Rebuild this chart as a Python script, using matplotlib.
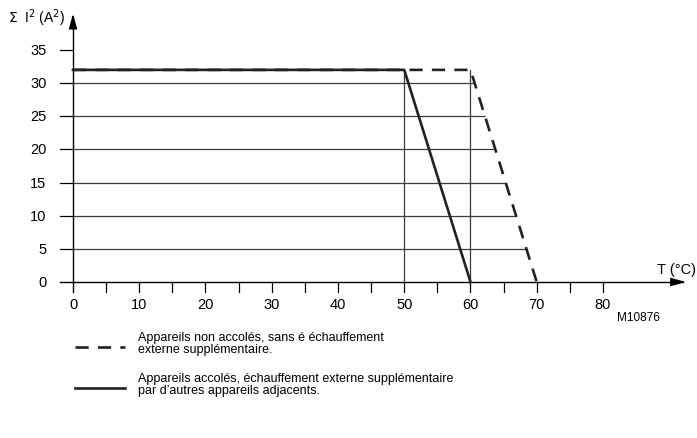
import numpy as np
import matplotlib
matplotlib.use("Agg")
import matplotlib.pyplot as plt
from matplotlib import font_manager

# Data
temp_dashed = [0, 60, 70]
i2_dashed = [32, 32, 0]
temp_solid = [0, 50, 60]
i2_solid = [32, 32, 0]
x_ticks = [0, 10, 20, 30, 40, 50, 60, 70, 80]
x_minor = [5, 15, 25, 35, 45, 55, 65, 75]
y_ticks = [0, 5, 10, 15, 20, 25, 30, 35]
grid_levels = [5, 10, 15, 20, 25, 30]
vlines_at = [50, 60]

names = {f.name for f in font_manager.fontManager.ttflist}
fam = ['Liberation Sans Narrow', 'DejaVu Sans'] if 'Liberation Sans Narrow' in names else ['Liberation Sans', 'DejaVu Sans']
plt.rcParams['font.family'] = fam

W, H = 697, 439
fig = plt.figure(figsize=(W / 100, H / 100), dpi=100)


def px(x, y):
    return x / W, 1 - y / H


# axes placed so that x=0 -> 73 px, x=80 -> 603 px, y=0 -> 283 px, y=35 -> 51 px
sx = (603 - 73) / 80
sy = (283 - 51) / 35
x0, x1 = -2.5, (690 - 73) / sx
y0, y1 = -3.0, (283 - 10) / sy
left = (73 + x0 * sx) / W
width = (x1 - x0) * sx / W
bottom = (H - (283 - y0 * sy)) / H
height = (y1 - y0) * sy / H
ax = fig.add_axes([left, bottom, width, height])
ax.set_xlim(x0, x1)
ax.set_ylim(y0, y1)
ax.axis('off')

grid_c = '#3a3a3a'
# horizontal gridlines up to the dashed curve
for g in grid_levels:
    xe = np.interp(g, i2_dashed[::-1], temp_dashed[::-1])
    ax.plot([0, xe], [g, g], color=grid_c, lw=0.9, solid_capstyle='butt')
for v in vlines_at:
    ax.plot([v, v], [0, 32], color=grid_c, lw=0.9)

# axes lines
ax.plot([x0 + 0.5, x1 - 1.0], [0, 0], color='black', lw=1.0)
ax.plot([0, 0], [-1.5, y1 - 1.5], color='black', lw=1.0)
ax.annotate('', xy=(x1 - 0.2, 0), xytext=(x1 - 2.2, 0),
            arrowprops=dict(arrowstyle='-|>,head_length=0.9,head_width=0.25', color='black', lw=1.0))
ax.annotate('', xy=(0, y1 - 0.3), xytext=(0, y1 - 2.5),
            arrowprops=dict(arrowstyle='-|>,head_length=0.9,head_width=0.25', color='black', lw=1.0))

# ticks
for t in x_ticks[1:] + x_minor:
    ax.plot([t, t], [0, -1.5], color='black', lw=0.9)
for t in y_ticks[1:]:
    ax.plot([x0 + 0.5, 0], [t, t], color='black', lw=0.9)
for t in x_ticks:
    ax.text(t, -2.3, str(t), ha='center', va='top', fontsize=10.5)
for t in y_ticks:
    ax.text(-4.0, t, str(t), ha='right', va='center', fontsize=10.5)

# curves
ax.plot(temp_dashed, i2_dashed, color='#222222', lw=1.9, dashes=(5, 3.5))
ax.plot(temp_solid, i2_solid, color='#222222', lw=1.9)

# labels
fig.text(*px(8, 18), r'$\Sigma$  I$^{2}$ (A$^{2}$)', ha='left', va='center', fontsize=10)
fig.text(*px(657, 270), 'T (°C)', ha='left', va='center', fontsize=10.5)
fig.text(*px(617, 318), 'M10876', ha='left', va='center', fontsize=8.5)

# legend
lx0, lx1 = px(75, 0)[0], px(125, 0)[0]
fig.add_artist(plt.Line2D([lx0, lx1], [px(0, 348)[1]] * 2, color='#222222', lw=1.9, dashes=(5, 3.5)))
fig.add_artist(plt.Line2D([lx0, lx1], [px(0, 389)[1]] * 2, color='#222222', lw=1.9))
fig.text(*px(138, 344), 'Appareils non accolés, sans é échauffement\nexterne supplémentaire.',
         ha='left', va='center', fontsize=9, linespacing=1.05)
fig.text(*px(138, 385), 'Appareils accolés, échauffement externe supplémentaire\npar d\u2019autres appareils adjacents.',
         ha='left', va='center', fontsize=9, linespacing=1.05)

fig.savefig('out.png', dpi=100)
